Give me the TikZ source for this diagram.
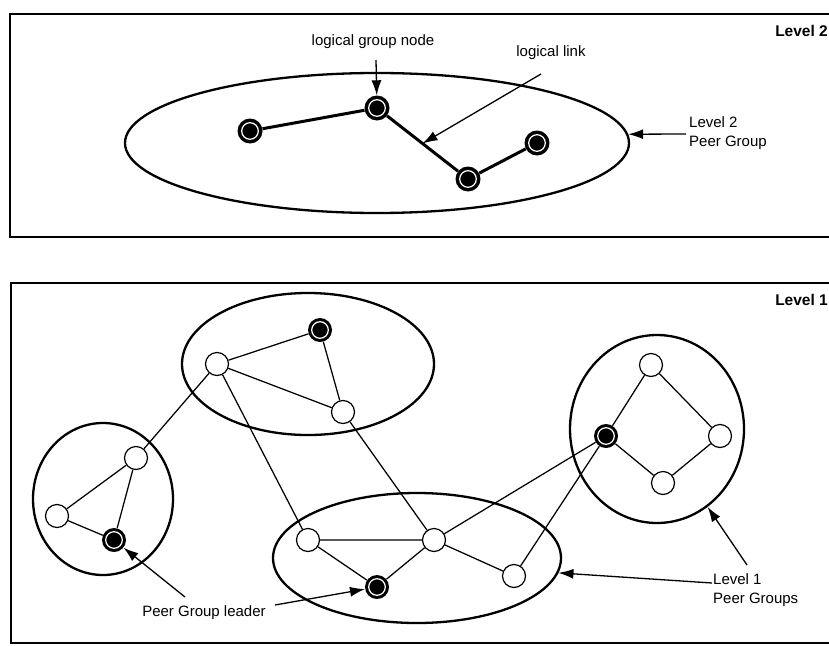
\documentclass[tikz,border=0pt]{standalone}
\usepackage{fontspec}
\setmainfont{Liberation Sans}
\usetikzlibrary{arrows.meta,shapes.geometric,calc}

\begin{document}
\begin{tikzpicture}[x=1pt,y=-1pt,
  frame/.style={line width=1.6pt},
  group/.style={draw, ellipse, line width=2.3pt, inner sep=0pt},
  member/.style={circle, draw, fill=white, line width=1.2pt, minimum size=23pt, inner sep=0pt},
  leader/.style={circle, fill=black, minimum size=24pt, inner sep=0pt,
    path picture={\draw[white, line width=1.2pt] (path picture bounding box.center) circle (8.3pt);}},
  lgnode/.style={leader, minimum size=25pt},
  link/.style={line width=1.25pt},
  loglink/.style={line width=3pt},
  ptr/.style={line width=1.3pt, -{Latex[length=15pt,width=10pt]}},
  lbl/.style={font=\fontsize{15}{19}\selectfont, inner sep=0pt},
  lvl/.style={font=\bfseries\fontsize{15.5}{18}\selectfont, inner sep=0pt, anchor=east}
]
\useasboundingbox (0,0) rectangle (829,645);

% ---------- panel frames ----------
\draw[frame] (829,14) -- (10,14) -- (10,237) -- (829,237);
\draw[frame] (829,283) -- (11,283) -- (11,643) -- (829,643);

% ---------- Level 2 ----------
\node[group, minimum width=504pt, minimum height=140pt] (pg2) at (377,143) {};
\node[lgnode] (g1) at (250,131) {};
\node[lgnode] (g2) at (377,108) {};
\node[lgnode] (g3) at (468,179) {};
\node[lgnode] (g4) at (537,143) {};
\draw[loglink] (g1) -- (g2) -- (g3) -- (g4);

\node[lvl] (lv2) at (828,31) {Level 2};
\node[lbl] (lgn) at (373,42) {logical group node};
\node[lbl] (ll) at (551,53) {logical link};
\node[lbl, anchor=west, align=left] (pg2lbl) at (689,133) {Level 2\\Peer Group};

\coordinate (lgnTail) at (376,60);
\coordinate (llTail) at (541,74);
\coordinate (llTip) at ($(g2)!0.5!(g3)$);
\coordinate (pg2Tail) at (686,134);
\draw[ptr] (lgnTail) -- (g2);
\draw[ptr] (llTail) -- (llTip);
\draw[ptr] (pg2Tail) -- (pg2.2);

% ---------- Level 1 : peer groups ----------
\node[group, minimum width=252pt, minimum height=142pt] (pgT) at (308,364) {};
\node[group, minimum width=140pt, minimum height=152pt] (pgL) at (103,499) {};
\node[group, minimum width=288pt, minimum height=130pt] (pgB) at (417,558) {};
\node[group, minimum width=174pt, minimum height=188pt] (pgR) at (657,429) {};

% upper group
\node[leader] (t1) at (320,330) {};
\node[member] (t2) at (217,364) {};
\node[member] (t3) at (343,412) {};
% left group
\node[member] (l1) at (136,458) {};
\node[member] (l2) at (57,516) {};
\node[leader] (l3) at (114,540) {};
% lower group
\node[member] (b1) at (308,540) {};
\node[member] (b2) at (434,540) {};
\node[leader] (b3) at (377,587) {};
\node[member] (b4) at (514,576) {};
% right group
\node[member] (r1) at (651,365) {};
\node[leader] (r2) at (606,436) {};
\node[member] (r3) at (720,436) {};
\node[member] (r4) at (663,483) {};

% links inside the groups
\draw[link] (t2) -- (t1) -- (t3) -- (t2);
\draw[link] (l1) -- (l2) -- (l3) -- (l1);
\draw[link] (b1) -- (b2) -- (b3) -- (b1);
\draw[link] (b2) -- (b4);
\draw[link] (r2) -- (r1) -- (r3) -- (r4) -- (r2);

% links between the groups
\draw[link] (l1) -- (t2);
\draw[link] (t2) -- (b1);
\draw[link] (t3) -- (b2);
\draw[link] (b2) -- (r2);
\draw[link] (b4) -- (r2);

% ---------- Level 1 : labels ----------
\node[lvl] (lv1) at (828,300) {Level 1};
\node[lbl] (ldr) at (204,613) {Peer Group leader};
\node[lbl, anchor=west, align=left] (pg1lbl) at (713,590) {Level 1\\Peer Groups};

\coordinate (ldrTailA) at (185,597);
\coordinate (ldrTailB) at (275,605);
\coordinate (pg1TailB) at (712,583);
\coordinate (pg1TailR) at (747,565);
\draw[ptr] (ldrTailA) -- (l3);
\draw[ptr] (ldrTailB) -- (b3);
\draw[ptr] (pg1TailB) -- (pgB.-6);
\draw[ptr] (pg1TailR) -- (pgR.-57);

\end{tikzpicture}
\end{document}
